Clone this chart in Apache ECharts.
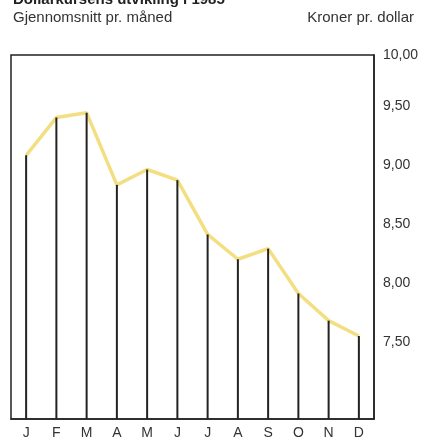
<!DOCTYPE html>
<html><head><meta charset="utf-8">
<script src="https://cdn.jsdelivr.net/npm/echarts@6/dist/echarts.min.js"></script>
<style>html,body{margin:0;padding:0;background:#fff}#c{width:423px;height:443px}</style>
</head><body><div id="c"></div>
<script>
const months = ['J','F','M','A','M','J','J','A','S','O','N','D'];
const rates = [9.08, 9.40, 9.44, 8.83, 8.96, 8.87, 8.41, 8.20, 8.29, 7.91, 7.68, 7.55];
const tickValues = [7.5, 8.0, 8.5, 9.0, 9.5, 9.93];
const tickLabels = ['7,50', '8,00', '8,50', '9,00', '9,50', '10,00'];
const yMin = 6.847, yMax = 9.93;

const font = '"Liberation Sans", Arial, sans-serif';
const chart = echarts.init(document.getElementById('c'));
chart.setOption({
  animation: false,
  backgroundColor: '#fff',
  title: [
    {text: 'Dollarkursens utvikling i 1985', left: 8, top: -13,
     textStyle: {fontFamily: font, fontSize: 15, fontWeight: 'bold', color: '#222'}},
    {text: 'Gjennomsnitt pr. måned', left: 8, top: 5,
     textStyle: {fontFamily: font, fontSize: 15, fontWeight: 'normal', color: '#333'}},
    {text: 'Kroner pr. dollar', right: 4, top: 5,
     textStyle: {fontFamily: font, fontSize: 15, fontWeight: 'normal', color: '#333'}}
  ],
  grid: {left: 11, right: 49, top: 55, bottom: 24, outerBoundsMode: 'none',
         show: true, borderColor: '#222', borderWidth: 1.5},
  xAxis: {
    type: 'category', data: months, boundaryGap: true,
    axisLine: {show: true, lineStyle: {color: '#222', width: 1.5}},
    axisTick: {show: false},
    axisLabel: {fontFamily: font, fontSize: 14, color: '#333', margin: 7}
  },
  yAxis: {
    type: 'value', position: 'right', min: yMin, max: yMax,
    axisLine: {show: true, lineStyle: {color: '#222', width: 1.5}},
    axisTick: {show: false},
    splitLine: {show: false},
    axisLabel: {
      fontFamily: font, fontSize: 14, color: '#333', margin: 9,
      customValues: tickValues,
      formatter: function (v) {
        let best = 0;
        for (let i = 0; i < tickValues.length; i++) if (Math.abs(tickValues[i] - v) < Math.abs(tickValues[best] - v)) best = i;
        return tickLabels[best];
      }
    }
  },
  series: [
    {type: 'line', data: rates, symbol: 'none', z: 2,
     lineStyle: {color: '#f3df82', width: 3.5}},
    {type: 'bar', data: rates, barWidth: 2, z: 3,
     itemStyle: {color: '#222'}}
  ]
});
</script></body></html>
